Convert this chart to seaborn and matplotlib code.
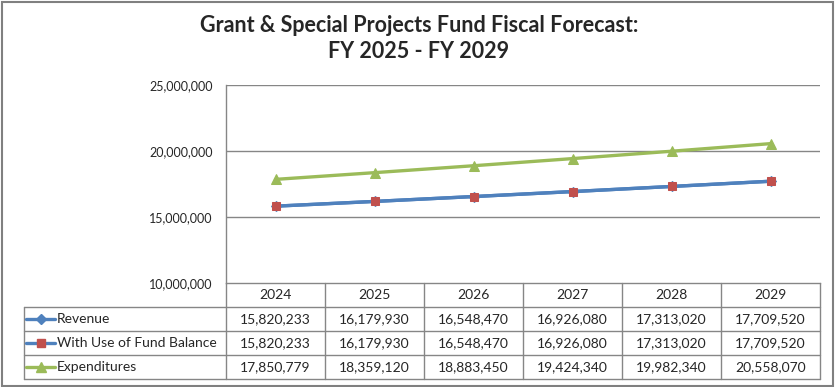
import pandas as pd
import matplotlib.pyplot as plt
import seaborn as sns
from matplotlib.lines import Line2D
from matplotlib.patches import Rectangle
from matplotlib.transforms import blended_transform_factory

sns.set_style("white")
plt.rcParams['font.family'] = ['Lato', 'DejaVu Sans']

# --- Data ---
years = ["2024", "2025", "2026", "2027", "2028", "2029"]
revenue = [15820233, 16179930, 16548470, 16926080, 17313020, 17709520]
with_fund_balance = [15820233, 16179930, 16548470, 16926080, 17313020, 17709520]
expenditures = [17850779, 18359120, 18883450, 19424340, 19982340, 20558070]
series_names = ["Revenue", "With Use of Fund Balance", "Expenditures"]
y_ticks = [10000000, 15000000, 20000000, 25000000]

line_colors = {"Revenue": "#4F81BD", "With Use of Fund Balance": "#4F81BD",
               "Expenditures": "#9BBB59"}
marker_colors = {"Revenue": "#4F81BD", "With Use of Fund Balance": "#C0504D",
                 "Expenditures": "#9BBB59"}
marker_shapes = {"Revenue": "D", "With Use of Fund Balance": "s",
                 "Expenditures": "^"}
marker_sizes = {"Revenue": 5, "With Use of Fund Balance": 6, "Expenditures": 7}

all_values = {"Revenue": revenue, "With Use of Fund Balance": with_fund_balance,
              "Expenditures": expenditures}
df = pd.DataFrame([
    {"pos": i, "year": y, "series": s, "value": v}
    for s in series_names for i, (y, v) in enumerate(zip(years, all_values[s]))
])

W, H = 836, 387
fig = plt.figure(figsize=(W / 100, H / 100), dpi=100)
ax_left, ax_right, ax_top, ax_bottom = 226, 820, 85, 283
ax = fig.add_axes([ax_left / W, 1 - ax_bottom / H,
                   (ax_right - ax_left) / W, (ax_bottom - ax_top) / H])

grid_col = "#868686"

# --- Lines ---
for s in series_names:
    sub = df[df["series"] == s]
    sns.lineplot(data=sub, x="pos", y="value", ax=ax, color=line_colors[s],
                 linewidth=2.4, marker=marker_shapes[s],
                 markersize=marker_sizes[s], markerfacecolor=marker_colors[s],
                 markeredgecolor=marker_colors[s], legend=False, zorder=3)

ax.set_xlim(-0.5, len(years) - 0.5)
ax.set_ylim(y_ticks[0], y_ticks[-1])
ax.set_yticks(y_ticks)
ax.set_yticklabels([f"{t:,}" for t in y_ticks], fontsize=9)
ax.set_xticks([])
ax.set_xlabel("")
ax.set_ylabel("")
ax.tick_params(axis="y", length=0, pad=9.5)
for t in y_ticks[1:]:
    ax.axhline(t, color=grid_col, linewidth=1, zorder=1)
for side in ["top", "right"]:
    ax.spines[side].set_visible(False)
for side in ["left", "bottom"]:
    ax.spines[side].set_color(grid_col)
    ax.spines[side].set_linewidth(1)

# --- Data table below the plot ---
row_h = 24 / (ax_bottom - ax_top)
n_rows = len(series_names) + 1
bt = blended_transform_factory(ax.transData, ax.transAxes)
label_left = (24 - ax_left) / (ax_right - ax_left)

def px(x):
    return (x - ax_left) / (ax_right - ax_left)

# horizontal lines
for r in range(1, n_rows + 1):
    ax.plot([label_left, 1], [-r * row_h] * 2, transform=ax.transAxes,
            color=grid_col, lw=1, clip_on=False)
# vertical lines
for i in range(len(years) + 1):
    ax.plot([i - 0.5] * 2, [0, -n_rows * row_h], transform=bt,
            color=grid_col, lw=1, clip_on=False)
ax.plot([label_left] * 2, [-row_h, -n_rows * row_h], transform=ax.transAxes,
        color=grid_col, lw=1, clip_on=False)

# header
for i, y in enumerate(years):
    ax.text(i, -0.5 * row_h, y, transform=bt, ha="center", va="center",
            fontsize=10)
# rows
for r, s in enumerate(series_names, start=1):
    yc = -(r + 0.5) * row_h
    ax.add_line(Line2D([px(26), px(55)], [yc, yc], transform=ax.transAxes,
                       color=line_colors[s], lw=2.4, clip_on=False))
    ax.add_line(Line2D([px(40.5)], [yc], transform=ax.transAxes,
                       marker=marker_shapes[s], markersize=marker_sizes[s],
                       markerfacecolor=marker_colors[s],
                       markeredgecolor=marker_colors[s], clip_on=False))
    ax.text(px(57), yc, s, transform=ax.transAxes, ha="left", va="center",
            fontsize=10)
    for i, v in enumerate(all_values[s]):
        ax.text(i, yc, f"{v:,}", transform=bt, ha="center", va="center",
                fontsize=10)

# --- Title ---
fig.text(0.501, 1 - 26 / H, "Grant & Special Projects Fund Fiscal Forecast:",
         ha="center", va="center", fontsize=15.5, fontweight="bold")
fig.text(0.501, 1 - 51 / H, "FY 2025 - FY 2029",
         ha="center", va="center", fontsize=15.5, fontweight="bold")

# outer chart border
fig.patches.append(Rectangle((1.5 / W, 1 / H), (833 - 1.5) / W, (386 - 1.5) / H,
                             transform=fig.transFigure, fill=False,
                             edgecolor="#808080", linewidth=1.5))

fig.savefig("out.png", dpi=100)
